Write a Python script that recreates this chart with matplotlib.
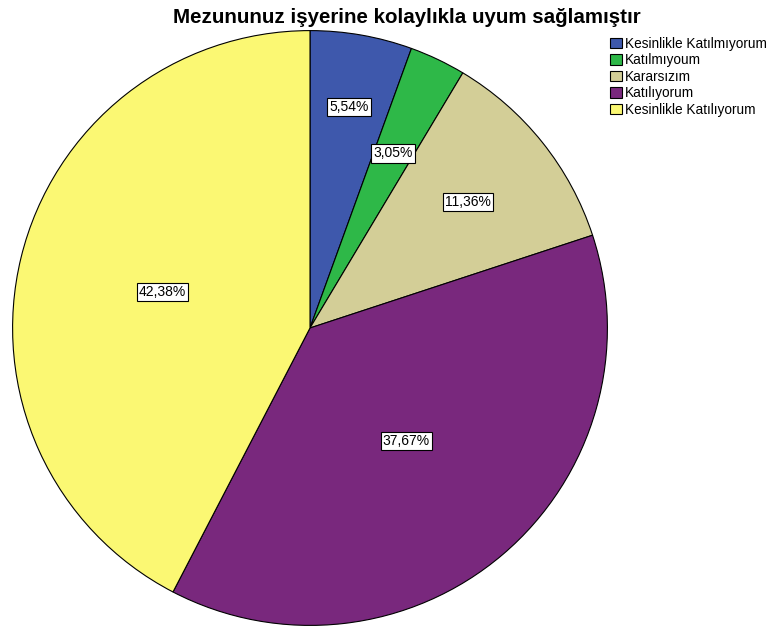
import numpy as np
from matplotlib import pyplot as plt

categories = ['Kesinlikle Katılmıyorum', 'Katılmıyoum', 'Kararsızım',
              'Katılıyorum', 'Kesinlikle Katılıyorum']
values = [5.54, 3.05, 11.36, 37.67, 42.38]
labels = ['5,54%', '3,05%', '11,36%', '37,67%', '42,38%']
colors = ['#3E58AC', '#2EB848', '#D3CE97', '#79287D', '#FBF873']

# how far out each percentage box sits
label_r = [0.755, 0.65, 0.68, 0.5, 0.51]

plt.rcParams['font.family'] = ['Liberation Sans', 'DejaVu Sans']

fig = plt.figure(figsize=(7.71, 6.32), dpi=100)
ax = fig.add_axes([12 / 771, 6 / 632, 596 / 771, 596 / 632])

wedges, _ = ax.pie(values, colors=colors, startangle=90, counterclock=False,
                   wedgeprops=dict(edgecolor='black', linewidth=0.8))
ax.set_xlim(-1.002, 1.002)
ax.set_ylim(-1.002, 1.002)
ax.set_aspect('equal')
ax.axis('off')

for w, lab, r in zip(wedges, labels, label_r):
    a = np.deg2rad((w.theta1 + w.theta2) / 2)
    ax.text(r * np.cos(a), r * np.sin(a), lab, ha='center', va='center',
            fontsize=10,
            bbox=dict(boxstyle='square,pad=0.15', fc='white', ec='black', lw=0.8))

fig.text(0.527, 0.973, 'Mezununuz işyerine kolaylıkla uyum sağlamıştır',
         ha='center', va='center', fontsize=14.8, fontweight='bold')

fig.legend(wedges, categories, loc='upper left', bbox_to_anchor=(0.791, 0.942),
           frameon=False, fontsize=9.8, handlelength=0.88, handleheight=0.8,
           handletextpad=0.25, labelspacing=0.19, borderaxespad=0,
           borderpad=0)

fig.savefig('out.png', dpi=100)
